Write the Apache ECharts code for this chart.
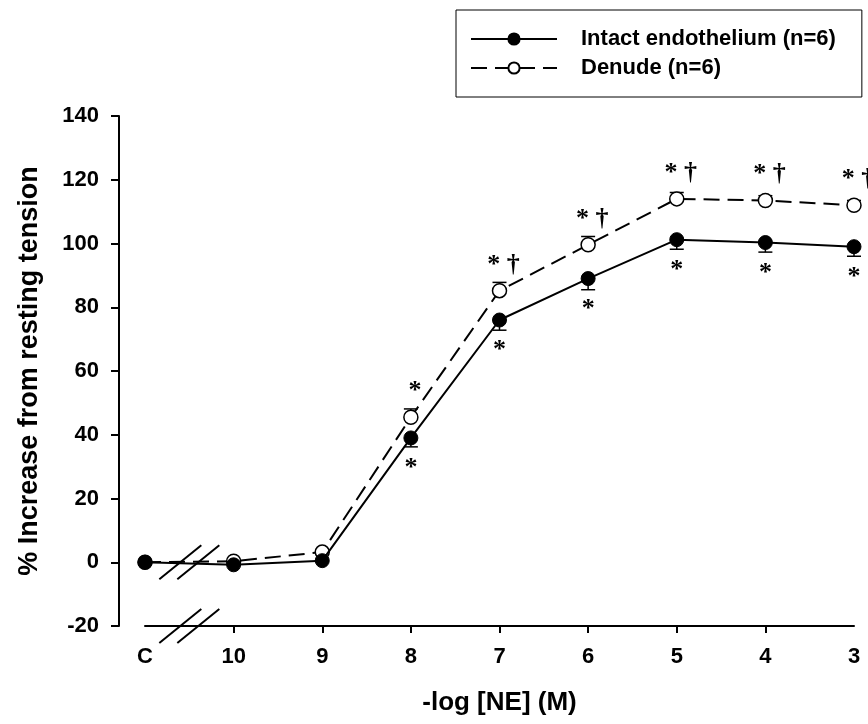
<!DOCTYPE html>
<html>
<head>
<meta charset="utf-8">
<script src="https://cdn.jsdelivr.net/npm/echarts@6/dist/echarts.min.js"></script>
<style>
html, body { margin: 0; padding: 0; background: #fff; }
#main { width: 868px; height: 724px; }
</style>
</head>
<body>
<div id="main"></div>
<script>
// x categories: C, then -log[NE] concentrations
var xLabels = ['C', '10', '9', '8', '7', '6', '5', '4', '3'];
var intactMean = [0, -0.8, 0.5, 39, 76, 89, 101.2, 100.3, 99];
var intactErr = [0, 0, 0, 2.8, 3.2, 3.5, 3, 3, 3];
var denudeMean = [0, 0.3, 3.2, 45.5, 85.2, 99.6, 114, 113.5, 112];
var denudeErr = [0, 0, 0, 2.6, 2.6, 2.6, 2, 1.5, 1.5];
var intactMarks = ['', '', '', '*', '*', '*', '*', '*', '*'];
var denudeMarks = ['', '', '', '*', '* †', '* †', '* †', '* †', '* †'];
var yTicks = [-20, 0, 20, 40, 60, 80, 100, 120, 140];

var fontFam = '"Liberation Sans", Arial, sans-serif';
var markFont = '"Liberation Serif", "Times New Roman", serif';

function toPairs(arr) {
	var out = [];
	for (var i = 0; i < arr.length; i++) {
		out.push([i, arr[i]]);
	}
	return out;
}

function errData(mean, err, dir) {
	var out = [];
	for (var i = 0; i < mean.length; i++) {
		if (err[i] > 0) {
			out.push([i, mean[i], mean[i] + dir * err[i]]);
		}
	}
	return out;
}

function errRender(params, api) {
	var p0 = api.coord([api.value(0), api.value(1)]);
	var p1 = api.coord([api.value(0), api.value(2)]);
	return {
		type: 'group',
		children: [
			{ type: 'line', shape: { x1: p0[0], y1: p0[1], x2: p1[0], y2: p1[1] },
				style: { stroke: '#000', lineWidth: 1.5 } },
			{ type: 'line', shape: { x1: p1[0] - 7, y1: p1[1], x2: p1[0] + 7, y2: p1[1] },
				style: { stroke: '#000', lineWidth: 1.5 } }
		]
	};
}

var chart = echarts.init(document.getElementById('main'));
var option = {
	animation: false,
	backgroundColor: '#fff',
	grid: {
		left: 145,
		right: 14,
		top: 116,
		bottom: 98
	},
	legend: {
		orient: 'vertical',
		left: 456,
		top: 10,
		padding: [18, 26, 18, 14],
		borderColor: '#000',
		borderWidth: 1,
		borderRadius: 0,
		itemWidth: 86,
		itemHeight: 14,
		itemGap: 7,
		textStyle: {
			fontFamily: fontFam,
			fontWeight: 'bold',
			fontSize: 22,
			color: '#000',
			padding: [0, 0, 0, 19]
		},
		data: ['Intact endothelium (n=6)', 'Denude (n=6)']
	},
	xAxis: {
		type: 'value',
		min: 0,
		max: 8,
		interval: 1,
		splitLine: { show: false },
		axisLine: { onZero: false, lineStyle: { color: '#000', width: 2 } },
		axisTick: {
			length: 7,
			lineStyle: { color: '#000', width: 2 },
			customValues: [1, 2, 3, 4, 5, 6, 7]
		},
		axisLabel: {
			margin: 20,
			color: '#000',
			fontFamily: fontFam,
			fontWeight: 'bold',
			fontSize: 22,
			customValues: [0, 1, 2, 3, 4, 5, 6, 7, 8],
			formatter: function (v) { return xLabels[v]; }
		},
		name: '-log [NE] (M)',
		nameLocation: 'middle',
		nameGap: 64,
		nameTextStyle: {
			color: '#000',
			fontFamily: fontFam,
			fontWeight: 'bold',
			fontSize: 26
		}
	},
	yAxis: {
		type: 'value',
		min: -20,
		max: 140,
		interval: 20,
		offset: 26,
		splitLine: { show: false },
		axisLine: { show: true, onZero: false, lineStyle: { color: '#000', width: 2 } },
		axisTick: { show: true, length: 8, lineStyle: { color: '#000', width: 2 } },
		axisLabel: {
			margin: 20,
			color: '#000',
			fontFamily: fontFam,
			fontWeight: 'bold',
			fontSize: 22,
			customValues: yTicks
		},
		name: '% Increase from resting tension',
		nameLocation: 'middle',
		nameGap: 76,
		nameTextStyle: {
			color: '#000',
			fontFamily: fontFam,
			fontWeight: 'bold',
			fontSize: 27
		}
	},
	series: [
		{
			name: 'intactErr',
			type: 'custom',
			renderItem: errRender,
			data: errData(intactMean, intactErr, -1),
			z: 1
		},
		{
			name: 'denudeErr',
			type: 'custom',
			renderItem: errRender,
			data: errData(denudeMean, denudeErr, 1),
			z: 1
		},
		{
			name: 'Denude (n=6)',
			type: 'line',
			data: toPairs(denudeMean),
			symbol: 'circle',
			symbolSize: 14,
			z: 3,
			lineStyle: { color: '#000', width: 2, type: [16, 8] },
			itemStyle: { color: '#fff', borderColor: '#000', borderWidth: 1.5 },
			label: {
				show: true,
				position: 'top',
				distance: 5,
				offset: [4, 0],
				color: '#000',
				fontFamily: markFont,
				fontWeight: 'bold',
				fontSize: 26,
				formatter: function (p) { return denudeMarks[p.dataIndex]; }
			}
		},
		{
			name: 'Intact endothelium (n=6)',
			type: 'line',
			data: toPairs(intactMean),
			symbol: 'circle',
			symbolSize: 14,
			z: 4,
			lineStyle: { color: '#000', width: 2 },
			itemStyle: { color: '#000', borderColor: '#000', borderWidth: 1 },
			label: {
				show: true,
				position: 'bottom',
				distance: 10,
				color: '#000',
				fontFamily: markFont,
				fontWeight: 'bold',
				fontSize: 26,
				formatter: function (p) { return intactMarks[p.dataIndex]; }
			}
		}
	]
};
chart.setOption(option);

// axis-break slashes between C and 10, on the data line and on the x axis
var breakGraphics = [];
[0, -20].forEach(function (yv) {
	var c = chart.convertToPixel({ gridIndex: 0 }, [0.5, yv]);
	[-9, 9].forEach(function (dx) {
		breakGraphics.push({
			type: 'line',
			z: 10,
			shape: { x1: c[0] + dx - 21, y1: c[1] + 17, x2: c[0] + dx + 21, y2: c[1] - 17 },
			style: { stroke: '#000', lineWidth: 2 }
		});
	});
});
chart.setOption({ graphic: breakGraphics });
</script>
</body>
</html>
